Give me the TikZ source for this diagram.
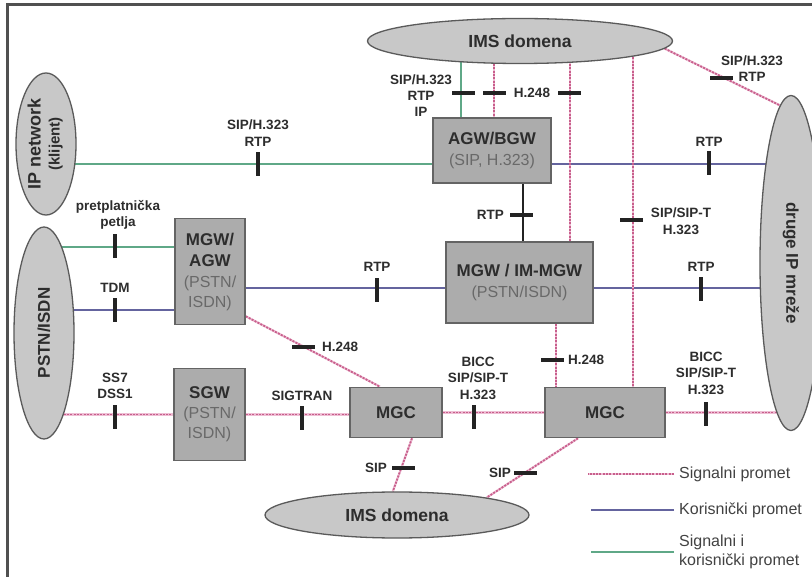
\documentclass[tikz,border=0pt]{standalone}
\usepackage{fontspec}
\setmainfont{Liberation Sans}
\usepackage{graphicx}
\usetikzlibrary{shapes.geometric,calc,backgrounds}

\definecolor{sigc}{RGB}{200,95,140}
\definecolor{sigl}{RGB}{238,190,212}
\definecolor{usrc}{RGB}{100,100,158}
\definecolor{grnc}{RGB}{95,168,135}
\definecolor{boxfill}{RGB}{172,172,172}
\definecolor{boxdraw}{RGB}{100,100,100}
\definecolor{ellfill}{RGB}{200,200,200}
\definecolor{elldraw}{RGB}{90,90,90}
\definecolor{txtc}{RGB}{45,45,45}
\definecolor{subc}{RGB}{105,105,105}
\definecolor{tickc}{RGB}{35,35,35}
\definecolor{framec}{RGB}{80,80,80}

\newcommand\boxtitle{\fontsize{17}{20}\selectfont\bfseries\color{txtc}}
\newcommand\boxsub{\fontsize{16}{20}\selectfont\mdseries\color{subc}}
\newcommand\linelabel{\fontsize{13.5}{16.5}\selectfont\bfseries}
\newcommand\legendtext{\fontsize{16}{19}\selectfont\mdseries}

\tikzset{
  gw/.style={rectangle, draw=boxdraw, fill=boxfill, line width=1.6pt,
    inner sep=0pt, align=center, font=\boxtitle},
  cloud/.style={ellipse, draw=elldraw, fill=ellfill, line width=1.3pt,
    inner sep=0pt, align=center, font=\boxtitle},
  sig/.style={draw=sigc, line width=1.8pt, dash pattern=on 2pt off 1.3pt,
    preaction={draw=sigl, line width=2.2pt, solid}},
  usr/.style={draw=usrc, line width=2.4pt},
  both/.style={draw=grnc, line width=2pt},
  media/.style={draw=tickc, line width=2.2pt},
  vtick/.style={rectangle, fill=tickc, inner sep=0pt, minimum width=3.4pt, minimum height=24pt},
  htick/.style={rectangle, fill=tickc, inner sep=0pt, minimum width=23pt, minimum height=3.4pt},
  lbl/.style={inner sep=0pt, align=center, font=\linelabel, text=txtc},
  legtxt/.style={inner sep=0pt, align=left, font=\legendtext, text=txtc!90},
}

\begin{document}
\begin{tikzpicture}[x=1pt, y=-1pt]
\useasboundingbox (0,0) rectangle (812,577);
\draw[framec, line width=3pt] (7,5) rectangle (830,600);

% clouds
\node[cloud, minimum width=305pt, minimum height=45pt, font=\fontsize{17.5}{20}\selectfont\bfseries\color{txtc}] (imsT) at (520,41) {IMS domena};
\node[cloud, minimum width=264pt, minimum height=46pt, font=\fontsize{17.5}{20}\selectfont\bfseries\color{txtc}] (imsB) at (397,515) {IMS domena};
\node[cloud, minimum width=60pt, minimum height=142pt] (ipnet) at (46,144)
  {\rotatebox{90}{\begin{tabular}{@{}c@{}}\fontsize{18}{18}\selectfont IP network\\[-1pt]\fontsize{15}{15}\selectfont (klijent)\end{tabular}}};
\node[cloud, minimum width=60pt, minimum height=212pt] (pstn) at (44,333)
  {\rotatebox{90}{PSTN/ISDN}};
\node[cloud, minimum width=62pt, minimum height=335pt] (druge) at (791,263)
  {\rotatebox{-90}{druge IP mreže}};

% gateways and controllers
\node[gw, minimum width=118pt, minimum height=65pt] (agw) at (492,150.5)
  {AGW/BGW\\[1pt]{\boxsub (SIP, H.323)}};
\node[gw, minimum width=147pt, minimum height=81pt] (mgwim) at (519.5,282.5)
  {MGW / IM-MGW\\[1pt]{\boxsub (PSTN/ISDN)}};
\node[gw, minimum width=70pt, minimum height=106pt] (mgwagw) at (210,271.5)
  {MGW/\\[1pt]AGW\\[1pt]{\boxsub (PSTN/}\\{\boxsub ISDN)}};
\node[gw, minimum width=71pt, minimum height=92pt] (sgw) at (209.5,414.5)
  {SGW\\{\boxsub (PSTN/}\\{\boxsub ISDN)}};
\node[gw, minimum width=92pt, minimum height=50pt] (mgc1) at (396,412.5) {MGC};
\node[gw, minimum width=120pt, minimum height=50pt] (mgc2) at (605,412.5) {MGC};

% attachment points on the boxes
\coordinate (gA) at ($(agw.west)+(0,13.5)$);
\coordinate (gB) at ($(mgwagw.west)+(0,-24.5)$);
\coordinate (bA) at ($(mgwagw.west)+(0,38.5)$);
\coordinate (bB) at ($(mgwim.west)+(0,5.5)$);
\coordinate (kA) at ($(agw.south)+(31,0)$);
\coordinate (gC) at ($(agw.north)+(-31,0)$);
\coordinate (pC) at ($(agw.north)+(2,0)$);
\coordinate (pM) at ($(mgwim.north)+(50.5,0)$);
\coordinate (pG) at ($(mgc2.north)+(28,0)$);
\coordinate (pD) at ($(mgwim.south)+(36.5,0)$);
\coordinate (hA) at ($(mgwagw.south east)+(0,-9)$);
\coordinate (hB) at ($(mgc1.north)+(-16,0)$);
\coordinate (sA) at ($(mgc1.south)+(16,0)$);
\coordinate (sB) at ($(mgc2.south)+(-27,0)$);

% connectors, kept behind the shapes
\begin{scope}[on background layer]
  \fill[white] (0,0) rectangle (812,577);
  \draw[both] (ipnet |- gA) -- (gA);
  \draw[usr] (agw |- gA) -- (druge |- gA);
  \draw[both] (pstn |- gB) -- (gB);
  \draw[usr] (pstn |- bA) -- (bA);
  \draw[sig] (pstn |- sgw) -- (sgw);
  \draw[sig] (sgw) -- (sgw -| mgc1);
  \draw[usr] (mgwagw |- bB) -- (bB);
  \draw[usr] (mgwim |- bB) -- (druge |- bB);
  \draw[media] (kA) -- (kA |- mgwim);
  \draw[both] (gC |- imsT) -- (gC);
  \draw[sig] (pC |- imsT) -- (pC);
  \draw[sig] (pM |- imsT) -- (pM);
  \draw[sig] (pG |- imsT) -- (pG);
  \draw[sig] (imsT.-3) -- (druge.94);
  \draw[sig] (hA) -- (hB);
  \draw[sig] (pD) -- (pD |- mgc2);
  \draw[sig] (mgc1) -- (mgc2);
  \draw[sig] (mgc2) -- (mgc2 -| druge);
  \draw[sig] (sA) -- (imsB.100);
  \draw[sig] (sB) -- (imsB.11);
\end{scope}

% protocol ticks
\node[vtick] (t1) at (258,164) {};
\node[vtick] (t2) at (115,246) {};
\node[vtick] (t3) at (115,310) {};
\node[vtick] (t4) at (115,417) {};
\node[vtick] (t5) at (302,418) {};
\node[vtick] (t6) at (377,290) {};
\node[vtick] (t7) at (474,417) {};
\node[vtick] (t8) at (706,414) {};
\node[vtick] (t9) at (701,289) {};
\node[vtick] (t10) at (709,163) {};
\node[htick] (t11) at (303,347) {};
\node[htick] (t12) at (403,468) {};
\node[htick] (t13) at (525,473) {};
\node[htick] (t14) at (552,360) {};
\node[htick] (t15) at (521,215) {};
\node[htick] (t16) at (631,220) {};
\node[htick] (t17) at (721,78) {};
\node[htick] (t18) at (463,93) {};
\node[htick] (t19) at (494,93) {};
\node[htick] (t20) at (569,93) {};

% protocol labels
\node[lbl] at (258,133) {SIP/H.323\\RTP};
\node[lbl] at (118,215) {pretplatnička\\petlja};
\node[lbl] at (115,288) {TDM};
\node[lbl] at (115,386) {SS7\\DSS1};
\node[lbl] at (302,396) {SIGTRAN};
\node[lbl, anchor=west] at (322,347) {H.248};
\node[lbl] at (377,267) {RTP};
\node[lbl] at (478,378) {BICC\\SIP/SIP-T\\H.323};
\node[lbl, anchor=east] at (387,468) {SIP};
\node[lbl, anchor=east] at (511,473) {SIP};
\node[lbl, anchor=west] at (568,360) {H.248};
\node[lbl] at (706,373) {BICC\\SIP/SIP-T\\H.323};
\node[lbl] at (701,267) {RTP};
\node[lbl] at (709,142) {RTP};
\node[lbl, anchor=east] at (504,215) {RTP};
\node[lbl] at (681,221) {SIP/SIP-T\\H.323};
\node[lbl] at (752,68.5) {SIP/H.323\\RTP};
\node[lbl, font=\fontsize{13.5}{16}\selectfont\bfseries] at (421,96) {SIP/H.323\\RTP\\IP};
\node[lbl] at (532,93) {H.248};

% legend
\node[legtxt, anchor=west] (lg1) at (679,474) {Signalni promet};
\node[legtxt, anchor=west] (lg2) at (679,510) {Korisnički promet};
\node[legtxt, anchor=west] (lg3) at (679,552) {Signalni i\\korisnički promet};
\draw[sig] ($(lg1.west)+(-5,0)$) -- ++(-86,0);
\draw[usr] ($(lg2.west)+(-5,0)$) -- ++(-83,0);
\draw[both] ($(lg3.west)+(-5,0)$) -- ++(-83,0);
\end{tikzpicture}
\end{document}
